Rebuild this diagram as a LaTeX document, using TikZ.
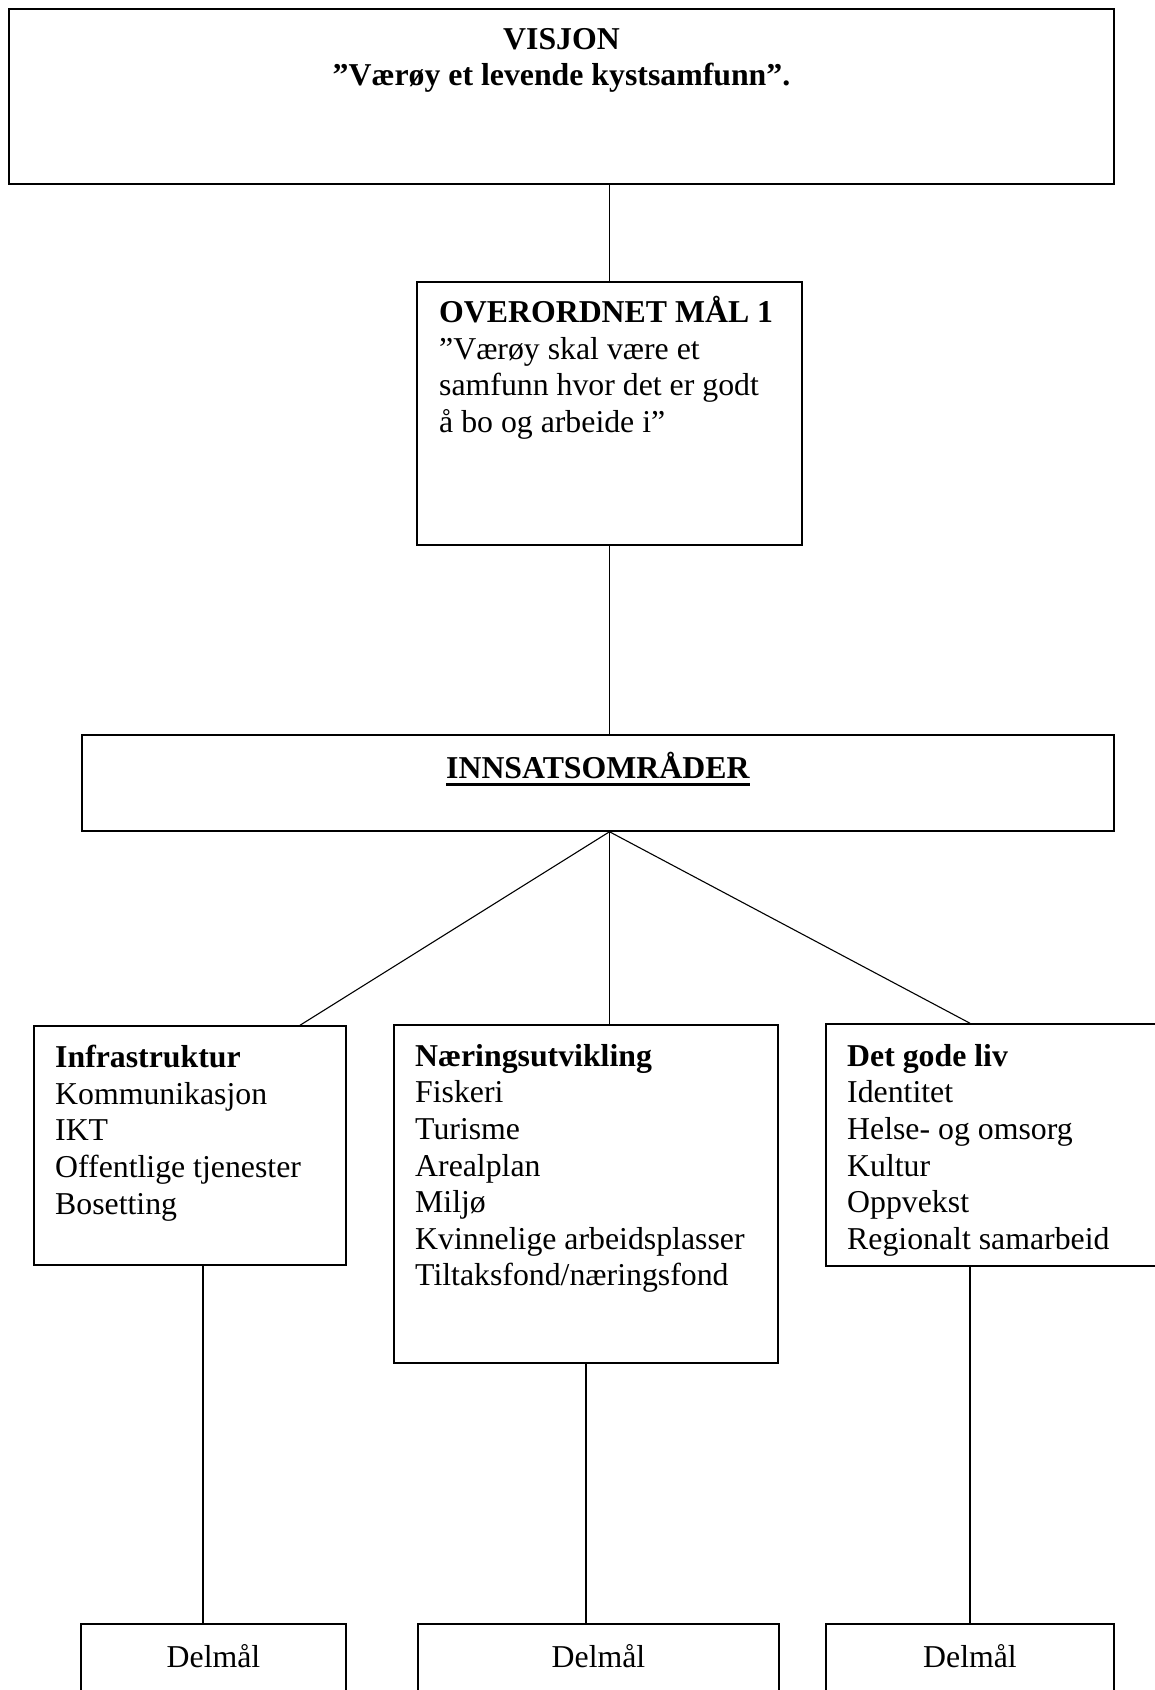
\documentclass[tikz,border=0pt]{standalone}
\usepackage{fontspec}
\setmainfont{Liberation Serif}
\usepackage{tikz}
\usetikzlibrary{calc}

\tikzset{
    box/.style={draw, rectangle, line width=1.5pt, inner sep=0pt},
    linje/.style={line width=1.1pt},
    tekst/.style={inner sep=0pt, font=\fontsize{31.8}{36.6}\selectfont},
    blokk/.style={tekst, align=left, anchor=north west, execute at begin node={\rule{0pt}{30pt}}}
}

\begin{document}
\begin{tikzpicture}[x=1pt,y=-1pt]
            \useasboundingbox (0,0) rectangle (1155,1690);
            \clip (0,0) rectangle (1155,1690);

            \node[box, minimum width=1105pt, minimum height=175pt] (visjon) at (561.5,96.5) {};
            \node[box, minimum width=385pt, minimum height=263pt] (maal) at (609.5,413.5) {};
            \node[box, minimum width=1032pt, minimum height=96pt] (innsats) at (598,783) {};
            \node[box, minimum width=312pt, minimum height=239pt] (infra) at (190,1145.5) {};
            \node[box, minimum width=384pt, minimum height=338pt] (naering) at (586,1194) {};
            \node[box, minimum width=374pt, minimum height=242pt] (liv) at (1013,1145) {};
            \node[box, minimum width=265pt, minimum height=96pt] (delmalA) at (213.5,1672) {};
            \node[box, minimum width=361pt, minimum height=96pt] (delmalB) at (598.5,1672) {};
            \node[box, minimum width=288pt, minimum height=96pt] (delmalC) at (970,1672) {};

            \coordinate (topp) at (maal.south |- innsats.south);
            \coordinate (infratopp) at ($(infra.north)+(110,0)$);
            \coordinate (livtopp) at ($(liv.north)+(-43,0)$);
            \coordinate (infrabunn) at ($(infra.south)+(13,0)$);

            \draw[linje] (maal.north) -- (maal.north |- visjon.south);
            \draw[linje] (maal.south) -- (maal.south |- innsats.north);
            \draw[linje] (topp) -- (infratopp);
            \draw[linje] (topp) -- (topp |- naering.north);
            \draw[linje] (topp) -- (livtopp);
            \draw[linje] (infrabunn) -- (infrabunn |- delmalA.north);
            \draw[linje] (naering.south) -- (naering.south |- delmalB.north);
            \draw[linje] (delmalC.north |- liv.south) -- (delmalC.north);

            \node[blokk, align=center, anchor=north] (visjontxt) at (561.5,28) {\textbf{VISJON}\\\textbf{”Værøy et levende kystsamfunn”.}};
            \node[blokk] (maaltxt) at (439,296) {\textbf{OVERORDNET MÅL 1}\\”Værøy skal være et\\samfunn hvor det er godt\\å bo og arbeide i”};
            \node[tekst, anchor=base] (innsatstxt) at (598,778) {\textbf{INNSATSOMRÅDER}};
            \draw[line width=3pt] ([yshift=-6pt]innsatstxt.base west) -- ([yshift=-6pt]innsatstxt.base east);
            \node[blokk] (infratxt) at (55,1045) {\textbf{Infrastruktur}\\Kommunikasjon\\IKT\\Offentlige tjenester\\Bosetting};
            \node[blokk] (naeringtxt) at (415,1044) {\textbf{Næringsutvikling}\\Fiskeri\\Turisme\\Arealplan\\Miljø\\Kvinnelige arbeidsplasser\\Tiltaksfond/næringsfond};
            \node[blokk] (livtxt) at (847,1044) {\textbf{Det gode liv}\\Identitet\\Helse- og omsorg\\Kultur\\Oppvekst\\Regionalt samarbeid};
            \node[tekst, anchor=base] (delmalAtxt) at (213.5,1667) {Delmål};
            \node[tekst, anchor=base] (delmalBtxt) at (598.5,1667) {Delmål};
            \node[tekst, anchor=base] (delmalCtxt) at (970,1667) {Delmål};
\end{tikzpicture}
\end{document}
